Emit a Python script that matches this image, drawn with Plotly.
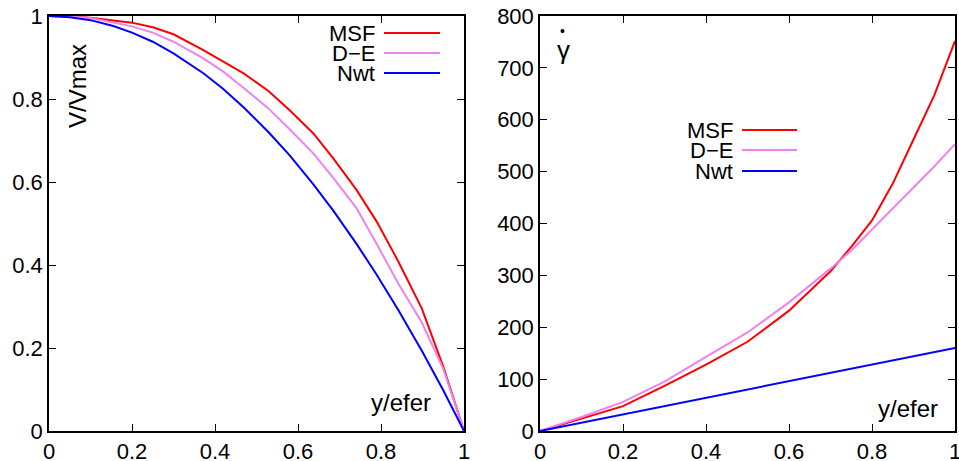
import plotly.graph_objects as go
from plotly.subplots import make_subplots

# ---- data: velocity profiles (left panel) ----
x_vel = [0, 0.05, 0.1, 0.155, 0.2, 0.25, 0.3, 0.372, 0.42, 0.47, 0.528, 0.58,
         0.637, 0.685, 0.741, 0.79, 0.842, 0.898, 0.95, 1.0]
vel_msf = [1.0, 0.999, 0.996, 0.989, 0.984, 0.973, 0.956, 0.918, 0.890, 0.861, 0.820, 0.773,
           0.717, 0.657, 0.581, 0.504, 0.408, 0.296, 0.155, 0.0]
vel_de = [1.0, 0.999, 0.995, 0.984, 0.975, 0.960, 0.938, 0.898, 0.866, 0.826, 0.778, 0.727,
          0.669, 0.610, 0.537, 0.450, 0.355, 0.262, 0.150, 0.0]
vel_nwt = [1.0, 0.997, 0.990, 0.976, 0.960, 0.938, 0.910, 0.862, 0.824, 0.779, 0.721, 0.664,
           0.594, 0.531, 0.451, 0.376, 0.291, 0.194, 0.098, 0.0]

# ---- data: shear rate (right panel) ----
x_rate = [0, 0.1, 0.2, 0.3, 0.4, 0.5, 0.6, 0.7, 0.75, 0.8, 0.85, 0.9, 0.95, 1.0]
rate_msf = [0, 24, 48, 87, 128, 172, 232, 308, 355, 406, 477, 562, 647, 752]
rate_de = [0, 27, 56, 95, 143, 190, 248, 313, 348, 388, 428, 468, 510, 553]
rate_nwt = [0, 16, 32, 48, 64, 80, 96, 112, 120, 128, 136, 144, 152, 160]

series_names = ["MSF", "D\u2212E", "Nwt"]
series_colors = ["#ff0000", "#ee82ee", "#0000ff"]

x_ticks = [0, 0.2, 0.4, 0.6, 0.8, 1]
x_ticklabels = ["0", "0.2", "0.4", "0.6", "0.8", "1"]
vel_ticks = [0, 0.2, 0.4, 0.6, 0.8, 1]
vel_ticklabels = ["0", "0.2", "0.4", "0.6", "0.8", "1"]
rate_ticks = [0, 100, 200, 300, 400, 500, 600, 700, 800]

W, H = 959, 461
FONT = "Liberation Sans, Arial, sans-serif"


def px(x):
    return x / W


def py(y):
    return 1 - y / H


fig = make_subplots(rows=1, cols=2)

for name, col, ys in zip(series_names, series_colors, [vel_msf, vel_de, vel_nwt]):
    fig.add_trace(go.Scatter(x=x_vel, y=ys, mode="lines", name=name,
                             line=dict(color=col, width=2), showlegend=False,
                             cliponaxis=False), row=1, col=1)
for name, col, ys in zip(series_names, series_colors, [rate_msf, rate_de, rate_nwt]):
    fig.add_trace(go.Scatter(x=x_rate, y=ys, mode="lines", name=name,
                             line=dict(color=col, width=2), showlegend=False,
                             cliponaxis=False), row=1, col=2)

axis_common = dict(showline=True, linecolor="black", linewidth=1.5, mirror="ticks",
                   ticks="inside", ticklen=7, tickcolor="black", tickwidth=1,
                   showgrid=False, zeroline=False, automargin=False,
                   ticklabeloverflow="allow",
                   tickfont=dict(family=FONT, size=22, color="black"))

fig.update_xaxes(range=[0, 1], tickvals=x_ticks, ticktext=x_ticklabels, **axis_common)
fig.update_yaxes(**axis_common)
fig.update_yaxes(range=[0, 1], tickvals=vel_ticks, ticktext=vel_ticklabels, row=1, col=1)
fig.update_yaxes(range=[0, 800], tickvals=rate_ticks, row=1, col=2)

fig.update_layout(
    width=W, height=H,
    margin=dict(l=0, r=0, t=0, b=0),
    paper_bgcolor="white", plot_bgcolor="white",
    xaxis=dict(domain=[px(49), px(464)]),
    xaxis2=dict(domain=[px(540), px(955)]),
    yaxis=dict(domain=[py(431), py(16)]),
    yaxis2=dict(domain=[py(431), py(16)]),
)


def label(x, y, text, size, angle=0, xanchor="center"):
    return dict(x=px(x), y=py(y), xref="paper", yref="paper", text=text, textangle=angle,
                xanchor=xanchor, yanchor="middle", showarrow=False,
                font=dict(family=FONT, size=size, color="black"))


ann = [
    label(77, 86, "V/Vmax", 24, angle=-90),
    label(401, 402, "y/efer", 24),
    label(908, 408, "y/efer", 24),
    label(563, 50, "\u03b3", 26),
    label(562, 31, "\u2022", 14),
]

# manual legends (text on the left, line sample on the right, gnuplot style)
shapes = []
legend_specs = [
    (377, 384, 440, [33, 53, 73]),
    (735, 742, 797, [130, 150, 171]),
]
for text_right, lx0, lx1, rows in legend_specs:
    for name, col, yy in zip(series_names, series_colors, rows):
        a = label(text_right, yy, name, 22, xanchor="right")
        a["height"] = 20
        ann.append(a)
        shapes.append(dict(type="line", xref="paper", yref="paper",
                           x0=px(lx0), x1=px(lx1), y0=py(yy), y1=py(yy),
                           line=dict(color=col, width=2)))

fig.update_layout(annotations=ann, shapes=shapes)

fig.write_html("out.html", config={"displayModeBar": False},
               post_script="document.body.style.margin='0';document.body.style.overflow='hidden';")
